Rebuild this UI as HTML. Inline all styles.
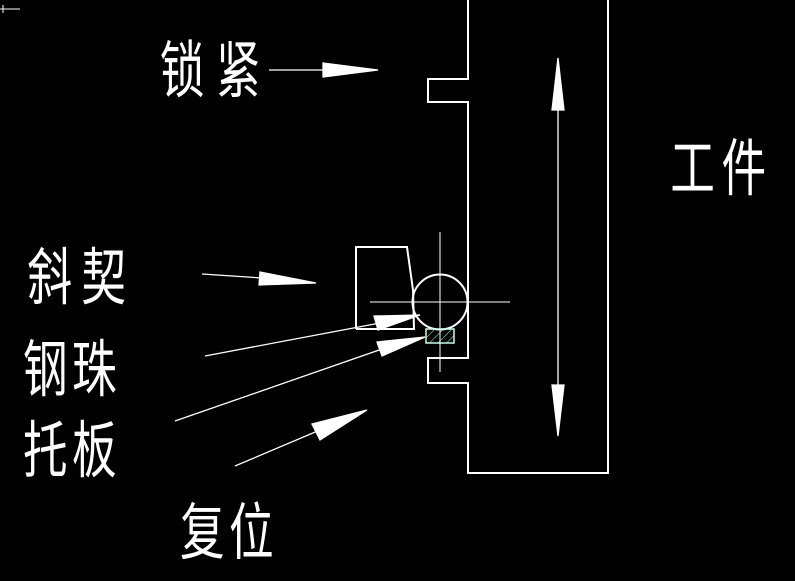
<!DOCTYPE html>
<html><head><meta charset="utf-8"><style>
html,body{margin:0;padding:0;background:#000;width:795px;height:581px;overflow:hidden}
text{font-family:"Liberation Sans","Noto Sans CJK SC",sans-serif;fill:#fff;font-weight:400;font-size:62px}
</style></head><body>
<svg width="795" height="581" viewBox="0 0 795 581" xmlns="http://www.w3.org/2000/svg">
<rect width="795" height="581" fill="#000"/>
<defs><pattern id="h" width="6" height="6" patternUnits="userSpaceOnUse" patternTransform="rotate(45)"><line x1="0" y1="0" x2="0" y2="6" stroke="#7fd" stroke-width="1"/></pattern></defs>
<g stroke="#fff" stroke-width="2" fill="none">
<polyline points="468,0 468,79 428,79 428,102 468,102 468,358 428,358 428,383 468,383 468,473 608,473 608,0"/>
<polyline points="356,329 356,247 407,247 413,290 414,329 356,329"/>
<circle cx="440" cy="302" r="27.5"/>
</g>
<rect x="426" y="329" width="28" height="14" fill="url(#h)" stroke="#bfe" stroke-width="1.5"/>
<g stroke="#fff" stroke-width="1">
<line x1="370" y1="302" x2="510" y2="302"/>
<line x1="440" y1="232" x2="440" y2="372"/>
</g>
<path d="M0,9 H20 M3,5 V13" stroke="#fff" stroke-width="1"/>
<g stroke="#fff" stroke-width="1.3" fill="#fff">
<line x1="269" y1="70" x2="325" y2="70"/><polygon points="323,63 378,70 323,77"/>
<line x1="558" y1="100" x2="558" y2="400"/>
<polygon points="552,110 558,58 564,110"/><polygon points="552,385 558,436 564,385"/>
<line x1="202" y1="274" x2="262" y2="278"/><polygon points="260,272 316,283 259,285"/>
<line x1="205" y1="356" x2="380" y2="323"/><polygon points="374,316 420,315 378,330"/>
<line x1="175" y1="421" x2="382" y2="349"/><polygon points="377,342 425,337 382,356"/>
<line x1="235" y1="466" x2="320" y2="430"/><polygon points="312,424 367,410 320,440"/>
</g>
<g transform="scale(0.72,1)">
<text x="222" y="92">锁</text><text x="300" y="92">紧</text>
<text x="931" y="190">工</text><text x="1002" y="190">件</text>
<text x="38" y="299">斜</text><text x="113" y="299">契</text>
<text x="32" y="391">钢</text><text x="100" y="391">珠</text>
<text x="32" y="472">托</text><text x="100" y="472">板</text>
<text x="250" y="554">复</text><text x="318" y="554">位</text>
</g>
</svg>
</body></html>
